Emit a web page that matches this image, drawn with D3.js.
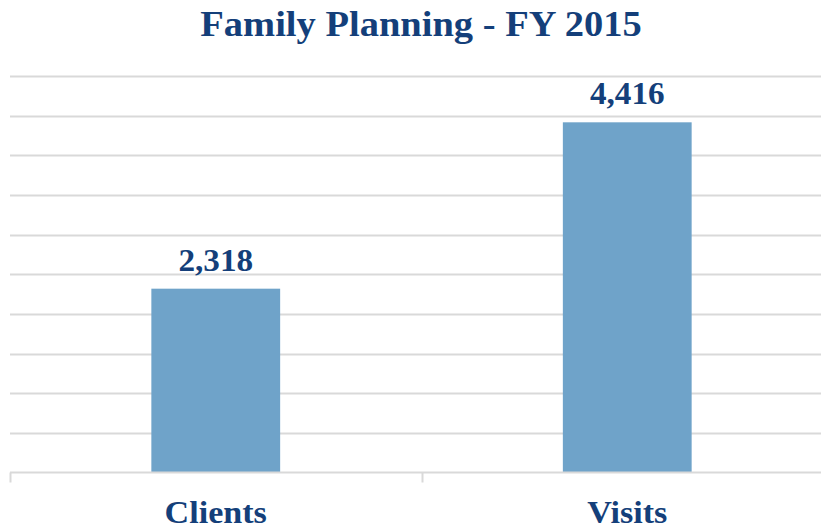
<!DOCTYPE html>
<html>
<head>
<meta charset="utf-8">
<script src="https://cdn.jsdelivr.net/npm/d3@7"></script>
<style>
body { margin: 0; background: #fff; }
text { font-family: "Liberation Serif", "DejaVu Serif", serif; font-weight: bold; fill: #143f7a; }
</style>
</head>
<body>
<script>
var width = 821, height = 531;

var categories = ["Clients", "Visits"];
var values = [2318, 4416];
var yTicks = [0, 500, 1000, 1500, 2000, 2500, 3000, 3500, 4000, 4500, 5000];
var chartTitle = "Family Planning - FY 2015";

var data = categories.map(function(c, i) { return {name: c, value: values[i]}; });

var svg = d3.select("body").append("svg")
    .attr("width", width)
    .attr("height", height);

var x = d3.scaleBand()
    .domain(categories)
    .range([10, 833])
    .paddingInner(0.687)
    .paddingOuter(0.3435);

var y = d3.scaleLinear()
    .domain([0, 5000])
    .range([472.5, 76]);

// widen the text a bit, the original font (Cambria) runs wider than Liberation Serif
function widen(sel, k) {
    sel.each(function() {
        var len = this.getComputedTextLength();
        d3.select(this).attr("textLength", len * k).attr("lengthAdjust", "spacingAndGlyphs");
    });
}

// gridlines
svg.selectAll("line.grid")
    .data(yTicks.slice(1))
    .enter().append("line")
    .attr("class", "grid")
    .attr("x1", 10).attr("x2", width)
    .attr("y1", function(d) { return Math.round(y(d)) + 0.5; })
    .attr("y2", function(d) { return Math.round(y(d)) + 0.5; })
    .attr("stroke", "#d9d9d9")
    .attr("stroke-width", 2);

// bars
svg.selectAll("rect.bar")
    .data(data)
    .enter().append("rect")
    .attr("class", "bar")
    .attr("x", function(d) { return x(d.name); })
    .attr("width", x.bandwidth())
    .attr("y", function(d) { return y(d.value); })
    .attr("height", function(d) { return y(0) - y(d.value); })
    .attr("fill", "#6fa3c9");

// x axis line + category separators
svg.append("line")
    .attr("x1", 10).attr("x2", width)
    .attr("y1", y(0)).attr("y2", y(0))
    .attr("stroke", "#d9d9d9").attr("stroke-width", 2);

var bounds = [10].concat(categories.map(function(c) { return x(c) - x.step() * x.paddingInner() / 2 + x.step(); }));
svg.selectAll("line.tick")
    .data(bounds)
    .enter().append("line")
    .attr("class", "tick")
    .attr("x1", function(d) { return Math.round(d) + 0.5; })
    .attr("x2", function(d) { return Math.round(d) + 0.5; })
    .attr("y1", y(0)).attr("y2", y(0) + 10)
    .attr("stroke", "#d9d9d9").attr("stroke-width", 2);

// value labels
var vals = svg.selectAll("text.val")
    .data(data)
    .enter().append("text")
    .attr("class", "val")
    .attr("x", function(d) { return x(d.name) + x.bandwidth() / 2; })
    .attr("y", function(d) { return y(d.value) - 18; })
    .attr("text-anchor", "middle")
    .style("font-size", "31px")
    .text(function(d) { return d3.format(",")(d.value); });
widen(vals, 1.07);

// category labels
var cats = svg.selectAll("text.cat")
    .data(categories)
    .enter().append("text")
    .attr("class", "cat")
    .attr("x", function(d) { return x(d) + x.bandwidth() / 2; })
    .attr("y", 523)
    .attr("text-anchor", "middle")
    .style("font-size", "31px")
    .text(function(d) { return d; });
widen(cats, 1.1);

// title
var title = svg.append("text")
    .attr("x", 421)
    .attr("y", 36)
    .attr("text-anchor", "middle")
    .style("font-size", "35px")
    .text(chartTitle);
widen(title, 1.1);
</script>
</body>
</html>
